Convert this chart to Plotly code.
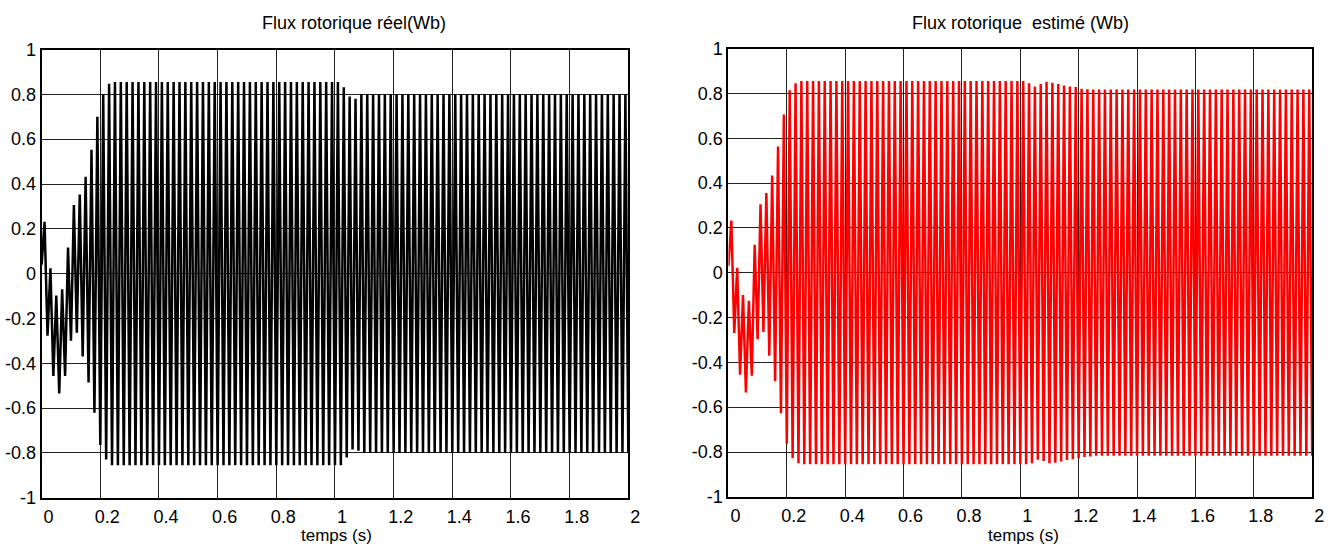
import numpy as np
import plotly.graph_objects as go

# ---- data ----
# Each series: starting value at t=0, then successive extrema (one every half period, 0.01 s)
t_step = 0.01
real_start = 0.04
est_start = 0.03

real_peaks = [
    # transient 0.01 .. 0.24 s
    0.231, -0.277, 0.024, -0.456, -0.098, -0.534, -0.07, -0.456, 0.117, -0.299,
    0.306, -0.263, 0.353, -0.37, 0.432, -0.485, 0.553, -0.621, 0.70, -0.764,
    0.80, -0.829, 0.847, -0.855,
    # steady 0.25 .. 1.02 s
    0.855, -0.855, 0.855, -0.855, 0.855, -0.855, 0.855, -0.855, 0.855, -0.855,
    0.855, -0.855, 0.855, -0.855, 0.855, -0.855, 0.855, -0.855, 0.855, -0.855,
    0.855, -0.855, 0.855, -0.855, 0.855, -0.855, 0.855, -0.855, 0.855, -0.855,
    0.855, -0.855, 0.855, -0.855, 0.855, -0.855, 0.855, -0.855, 0.855, -0.855,
    0.855, -0.855, 0.855, -0.855, 0.855, -0.855, 0.855, -0.855, 0.855, -0.855,
    0.855, -0.855, 0.855, -0.855, 0.855, -0.855, 0.855, -0.855, 0.855, -0.855,
    0.855, -0.855, 0.855, -0.855, 0.855, -0.855, 0.855, -0.855, 0.855, -0.855,
    0.855, -0.855, 0.855, -0.855, 0.855, -0.855, 0.855, -0.855,
    # load change 1.03 .. 1.10 s
    0.832, -0.82, 0.79, -0.785, 0.78, -0.79, 0.80, -0.80,
    # steady 1.11 .. 2.00 s
    0.80, -0.80, 0.80, -0.80, 0.80, -0.80, 0.80, -0.80, 0.80, -0.80,
    0.80, -0.80, 0.80, -0.80, 0.80, -0.80, 0.80, -0.80, 0.80, -0.80,
    0.80, -0.80, 0.80, -0.80, 0.80, -0.80, 0.80, -0.80, 0.80, -0.80,
    0.80, -0.80, 0.80, -0.80, 0.80, -0.80, 0.80, -0.80, 0.80, -0.80,
    0.80, -0.80, 0.80, -0.80, 0.80, -0.80, 0.80, -0.80, 0.80, -0.80,
    0.80, -0.80, 0.80, -0.80, 0.80, -0.80, 0.80, -0.80, 0.80, -0.80,
    0.80, -0.80, 0.80, -0.80, 0.80, -0.80, 0.80, -0.80, 0.80, -0.80,
    0.80, -0.80, 0.80, -0.80, 0.80, -0.80, 0.80, -0.80, 0.80, -0.80,
    0.80, -0.80, 0.80, -0.80, 0.80, -0.80, 0.80, -0.80, 0.80, -0.80,
]

est_peaks = [
    # transient 0.01 .. 0.24 s
    0.233, -0.269, 0.022, -0.455, -0.10, -0.534, -0.125, -0.46, 0.125, -0.297,
    0.305, -0.265, 0.355, -0.37, 0.434, -0.484, 0.563, -0.627, 0.706, -0.763,
    0.814, -0.828, 0.845, -0.85,
    # steady 0.25 .. 1.02 s
    0.855, -0.855, 0.855, -0.855, 0.855, -0.855, 0.855, -0.855, 0.855, -0.855,
    0.855, -0.855, 0.855, -0.855, 0.855, -0.855, 0.855, -0.855, 0.855, -0.855,
    0.855, -0.855, 0.855, -0.855, 0.855, -0.855, 0.855, -0.855, 0.855, -0.855,
    0.855, -0.855, 0.855, -0.855, 0.855, -0.855, 0.855, -0.855, 0.855, -0.855,
    0.855, -0.855, 0.855, -0.855, 0.855, -0.855, 0.855, -0.855, 0.855, -0.855,
    0.855, -0.855, 0.855, -0.855, 0.855, -0.855, 0.855, -0.855, 0.855, -0.855,
    0.855, -0.855, 0.855, -0.855, 0.855, -0.855, 0.855, -0.855, 0.855, -0.855,
    0.855, -0.855, 0.855, -0.855, 0.855, -0.855, 0.855, -0.855,
    # load change 1.03 .. 1.24 s
    0.845, -0.85, 0.831, -0.835, 0.842, -0.84, 0.852, -0.85, 0.847, -0.848,
    0.842, -0.842, 0.835, -0.836, 0.831, -0.832, 0.828, -0.828, 0.821, -0.822,
    0.818, -0.82,
    # steady 1.25 .. 2.00 s
    0.817, -0.817, 0.817, -0.817, 0.817, -0.817, 0.817, -0.817, 0.817, -0.817,
    0.817, -0.817, 0.817, -0.817, 0.817, -0.817, 0.817, -0.817, 0.817, -0.817,
    0.817, -0.817, 0.817, -0.817, 0.817, -0.817, 0.817, -0.817, 0.817, -0.817,
    0.817, -0.817, 0.817, -0.817, 0.817, -0.817, 0.817, -0.817, 0.817, -0.817,
    0.817, -0.817, 0.817, -0.817, 0.817, -0.817, 0.817, -0.817, 0.817, -0.817,
    0.817, -0.817, 0.817, -0.817, 0.817, -0.817, 0.817, -0.817, 0.817, -0.817,
    0.817, -0.817, 0.817, -0.817, 0.817, -0.817, 0.817, -0.817, 0.817, -0.817,
    0.817, -0.817, 0.817, -0.817, 0.817, -0.817,
]

x_tickvals = [0, 0.2, 0.4, 0.6, 0.8, 1, 1.2, 1.4, 1.6, 1.8, 2]
x_ticktext = ["0", "0.2", "0.4", "0.6", "0.8", "1", "1.2", "1.4", "1.6", "1.8", "2"]
y_tickvals = [-1, -0.8, -0.6, -0.4, -0.2, 0, 0.2, 0.4, 0.6, 0.8, 1]
y_ticktext = ["-1", "-0.8", "-0.6", "-0.4", "-0.2", "0", "0.2", "0.4", "0.6", "0.8", "1"]

title_left = "Flux rotorique réel(Wb)"
title_right = "Flux rotorique  estimé (Wb)"
xlabel = "temps (s)"

# ---- build ----
t_real = np.concatenate([[0.0], t_step * np.arange(1, len(real_peaks) + 1)])
y_real = np.concatenate([[real_start], real_peaks])
t_est = np.concatenate([[0.0], t_step * np.arange(1, len(est_peaks) + 1)])
y_est = np.concatenate([[est_start], est_peaks])

W, H = 1341, 556
FONT = "Liberation Sans, Arial, sans-serif"

fig = go.Figure()
fig.add_trace(go.Scatter(x=t_real, y=y_real, mode="lines",
                         line=dict(color="black", width=2.5), xaxis="x", yaxis="y",
                         showlegend=False, hoverinfo="skip"))
fig.add_trace(go.Scatter(x=t_est, y=y_est, mode="lines",
                         line=dict(color="#ff0000", width=2.5), xaxis="x2", yaxis="y2",
                         showlegend=False, hoverinfo="skip"))

def px_x(p):
    return p / W

def px_y(p):
    return 1 - p / H

axis_common = dict(showline=True, linecolor="black", linewidth=2, mirror=True,
                   showgrid=True, gridcolor="#222222", gridwidth=1, zeroline=False,
                   tickfont=dict(family=FONT, size=18, color="black"))
x_extra = dict(ticks="outside", ticklen=2, tickcolor="rgba(0,0,0,0)", ticklabelshift=7)
y_extra = dict(ticks="")

fig.update_layout(
    width=W, height=H,
    margin=dict(l=0, r=0, t=0, b=0),
    paper_bgcolor="white", plot_bgcolor="white",
    xaxis=dict(domain=[px_x(42), px_x(634)], range=[0, 2], anchor="y",
               tickvals=x_tickvals, ticktext=x_ticktext, **x_extra, **axis_common),
    yaxis=dict(domain=[px_y(506), px_y(41)], range=[-1, 1], anchor="x",
               tickvals=y_tickvals, ticktext=y_ticktext, **y_extra, **axis_common),
    xaxis2=dict(domain=[px_x(735), px_x(1324)], range=[0, 2], anchor="y2",
                tickvals=x_tickvals, ticktext=x_ticktext, **x_extra, **axis_common),
    yaxis2=dict(domain=[px_y(505), px_y(40)], range=[-1, 1], anchor="x2",
                tickvals=y_tickvals, ticktext=y_ticktext, **y_extra, **axis_common),
    annotations=[
        dict(text=title_left, x=px_x(357), y=px_y(14), xref="paper", yref="paper",
             showarrow=False, font=dict(family=FONT, size=18, color="black"),
             xanchor="center", yanchor="middle"),
        dict(text=title_right, x=px_x(1030), y=px_y(14), xref="paper", yref="paper",
             showarrow=False, font=dict(family=FONT, size=18, color="black"),
             xanchor="center", yanchor="middle"),
        dict(text=xlabel, x=px_x(340), y=0, xref="paper", yref="paper",
             showarrow=False, font=dict(family=FONT, size=17, color="black"),
             xanchor="center", yanchor="bottom", borderpad=0),
        dict(text=xlabel, x=px_x(1033), y=0, xref="paper", yref="paper",
             showarrow=False, font=dict(family=FONT, size=17, color="black"),
             xanchor="center", yanchor="bottom", borderpad=0),
    ],
)

fig.write_html("out.html")
